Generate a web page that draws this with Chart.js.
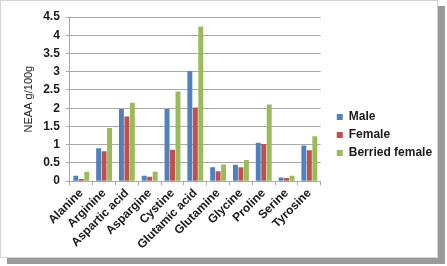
<!DOCTYPE html>
<html>
<head>
<meta charset="utf-8">
<script src="https://cdn.jsdelivr.net/npm/chart.js@4"></script>
<style>
    body { margin: 0; background: #fff; }
    #marco {
        position: absolute; left: 0; top: 0;
        width: 436px; height: 256px;
        border: 1px solid #d4d4d4;
        box-shadow: 7px 6px 0 #9a9a9a;
        background: #fff;
    }
    #graficoNEAA { position: absolute; left: 0; top: 0; }
</style>
</head>
<body>
<div id="marco"></div>
<canvas id="graficoNEAA" width="447" height="266"></canvas>
<script>
const aminoacidos = ['Alanine', 'Arginine', 'Aspartic acid', 'Aspargine', 'Cystine', 'Glutamic acid',
    'Glutamine', 'Glycine', 'Proline', 'Serine', 'Tyrosine'];
const valoresMacho = [0.15, 0.9, 1.98, 0.15, 1.98, 3.02, 0.38, 0.45, 1.05, 0.1, 0.98];
const valoresHembra = [0.06, 0.82, 1.77, 0.12, 0.86, 2.02, 0.27, 0.38, 1.02, 0.09, 0.85];
const valoresBerried = [0.26, 1.46, 2.15, 0.26, 2.46, 4.24, 0.46, 0.58, 2.1, 0.15, 1.23];
const ticksY = [0, 0.5, 1, 1.5, 2, 2.5, 3, 3.5, 4, 4.5];

const fuente = 'Liberation Sans, Arial, sans-serif';
const colorGrid = '#a8a8a8';

// separa un poco la leyenda del area del grafico
const margenLeyenda = {
    id: 'margenLeyenda',
    afterInit(chart) {
        const fitOriginal = chart.legend.fit;
        chart.legend.fit = function () {
            fitOriginal.call(this);
            this.width += 17;
        };
    },
    afterLayout(chart) {
        chart.legend.left += 10;
    }
};

const ctx = document.getElementById('graficoNEAA').getContext('2d');
const grafico = new Chart(ctx, {
    type: 'bar',
    data: {
        labels: aminoacidos,
        datasets: [
            { label: 'Male', data: valoresMacho, backgroundColor: '#4F81BD' },
            { label: 'Female', data: valoresHembra, backgroundColor: '#C0504D' },
            { label: 'Berried female', data: valoresBerried, backgroundColor: '#9BBB59' }
        ]
    },
    options: {
        responsive: false,
        animation: false,
        layout: { padding: { left: 22, right: 4, top: 17, bottom: 13 } },
        datasets: {
            bar: { barPercentage: 0.9, categoryPercentage: 0.72 }
        },
        scales: {
            x: {
                grid: { drawOnChartArea: false, color: colorGrid, tickLength: 4 },
                border: { color: colorGrid },
                ticks: {
                    maxRotation: 45, minRotation: 45, autoSkip: false, padding: 1,
                    color: '#1a1a1a', font: { family: fuente, size: 12, weight: 'bold' }
                }
            },
            y: {
                min: 0, max: 4.5,
                afterBuildTicks: (eje) => { eje.ticks = ticksY.map(v => ({ value: v })); },
                grid: { color: colorGrid, tickLength: 4 },
                border: { color: colorGrid },
                ticks: {
                    padding: 6,
                    callback: (valor) => String(valor),
                    color: '#1a1a1a', font: { family: fuente, size: 12, weight: 'bold' }
                },
                title: {
                    display: true, text: 'NEAA g/100g', padding: { top: 0, bottom: 2 },
                    color: '#1a1a1a', font: { family: fuente, size: 11 }
                }
            }
        },
        plugins: {
            legend: {
                position: 'right',
                labels: {
                    boxWidth: 6, boxHeight: 6, padding: 6,
                    color: '#1a1a1a', font: { family: fuente, size: 12, weight: 'bold' }
                }
            },
            tooltip: { enabled: false }
        }
    },
    plugins: [margenLeyenda]
});
</script>
</body>
</html>
